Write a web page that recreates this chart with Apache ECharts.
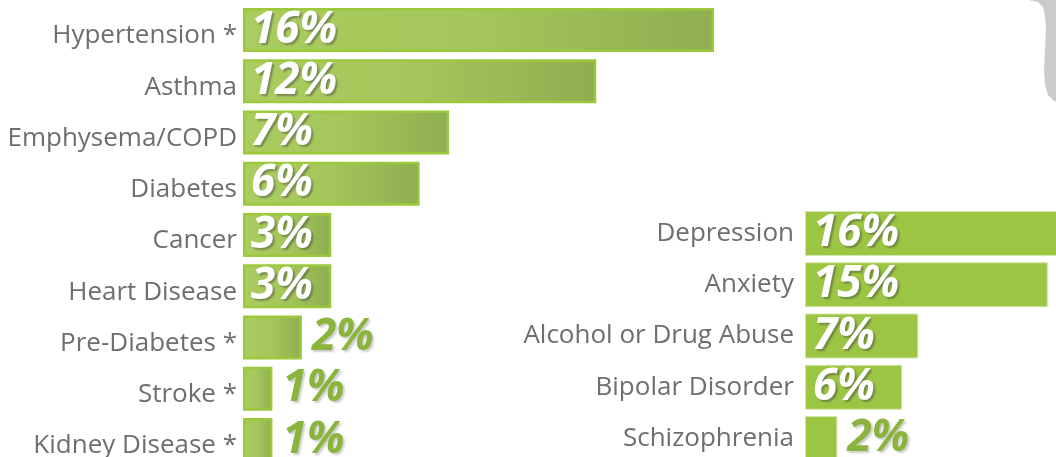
<!DOCTYPE html>
<html>
<head>
<meta charset="utf-8">
<script src="https://cdn.jsdelivr.net/npm/echarts@6/dist/echarts.min.js"></script>
<style>
  html, body { margin: 0; padding: 0; background: #ffffff; }
  #chart { width: 1056px; height: 457px; }
</style>
</head>
<body>
<div id="chart"></div>
<script>
// Physical conditions (left panel)
const physicalCategories = [
  'Hypertension *', 'Asthma', 'Emphysema/COPD', 'Diabetes', 'Cancer',
  'Heart Disease', 'Pre-Diabetes *', 'Stroke *', 'Kidney Disease *'
];
const physicalValues = [16, 12, 7, 6, 3, 3, 2, 1, 1];

// Mental health conditions (right panel)
const mentalCategories = [
  'Depression', 'Anxiety', 'Alcohol or Drug Abuse', 'Bipolar Disorder', 'Schizophrenia'
];
const mentalValues = [16, 15, 7, 6, 2];

const labelGray = '#6d6e71';
const ROW = 51.25;

const chart = echarts.init(document.getElementById('chart'), null, { renderer: 'canvas' });

const leftGrid = {
  left: 243, top: 30 - ROW / 2, width: 471, height: ROW * physicalCategories.length,
  outerBoundsMode: 'none', containLabel: false
};
const rightGrid = {
  left: 805, top: 233.5 - ROW / 2, width: 259, height: ROW * mentalCategories.length,
  outerBoundsMode: 'none', containLabel: false
};
const axisMax = 16;

const pctFont = {
  fontFamily: 'Open Sans',
  fontStyle: 'italic',
  fontWeight: 'bold',
  fontSize: 44,
  textShadowOffsetX: 2,
  textShadowOffsetY: 2,
  textShadowBlur: 2
};

// Percentage label: white inside when the bar is wide enough, green outside otherwise
function pctLabel(value, pxPerUnit, minInside) {
  const inside = value * pxPerUnit >= minInside;
  return inside ? Object.assign({
    show: true,
    position: 'insideLeft',
    distance: 8,
    formatter: '{c}%',
    color: '#ffffff',
    textShadowColor: 'rgba(60,60,60,0.45)'
  }, pctFont) : Object.assign({
    show: true,
    position: 'right',
    distance: 10,
    formatter: '{c}%',
    color: '#8ab43c',
    textShadowColor: 'rgba(90,90,90,0.3)'
  }, pctFont);
}

const leftPx = leftGrid.width / axisMax;
const rightPx = rightGrid.width / axisMax;

const leftData = physicalValues.map(v => ({ value: v, label: pctLabel(v, leftPx, 70) }));
const rightData = mentalValues.map(v => ({ value: v, label: pctLabel(v, rightPx, 70) }));

// Category axis; the left panel's names sit a little below their bars
const catAxis = (cats, gridIndex, margin, dropped) => ({
  type: 'category',
  gridIndex,
  data: cats,
  inverse: true,
  axisLine: { show: false },
  axisTick: { show: false },
  axisLabel: Object.assign({
    color: labelGray,
    fontFamily: 'Open Sans',
    fontSize: 26,
    margin
  }, dropped ? { verticalAlign: 'top', lineHeight: 12 } : {})
});

const valAxis = (gridIndex) => ({
  type: 'value',
  gridIndex,
  min: 0,
  max: axisMax,
  show: false,
  splitLine: { show: false }
});

chart.setOption({
  animation: false,
  backgroundColor: '#ffffff',
  grid: [leftGrid, rightGrid],
  xAxis: [valAxis(0), valAxis(1)],
  yAxis: [catAxis(physicalCategories, 0, 6, true), catAxis(mentalCategories, 1, 11, false)],
  graphic: [{
    // decorative grey curve at the top-right corner
    type: 'polygon',
    shape: {
      points: [[1028, 0], [1038, 2], [1043, 7], [1045, 16], [1046, 30], [1045, 50],
               [1044, 70], [1045, 85], [1048, 95], [1053, 100], [1056, 102], [1056, 0]]
    },
    style: { fill: '#cbcbcb' },
    z: -1
  }],
  series: [{
    type: 'bar',
    xAxisIndex: 0,
    yAxisIndex: 0,
    barWidth: 44,
    data: leftData,
    itemStyle: {
      color: {
        type: 'linear', x: 0, y: 0, x2: 1, y2: 0,
        colorStops: [
          { offset: 0, color: '#abcd5f' },
          { offset: 0.5, color: '#a4c65a' },
          { offset: 1, color: '#8eae50' }
        ]
      },
      borderColor: '#9cc83c',
      borderWidth: 2.5
    }
  }, {
    type: 'bar',
    xAxisIndex: 1,
    yAxisIndex: 1,
    barWidth: 45,
    data: rightData,
    itemStyle: {
      color: '#9cc543',
      borderColor: '#d4e6ad',
      borderWidth: 1
    }
  }]
});
</script>
</body>
</html>
